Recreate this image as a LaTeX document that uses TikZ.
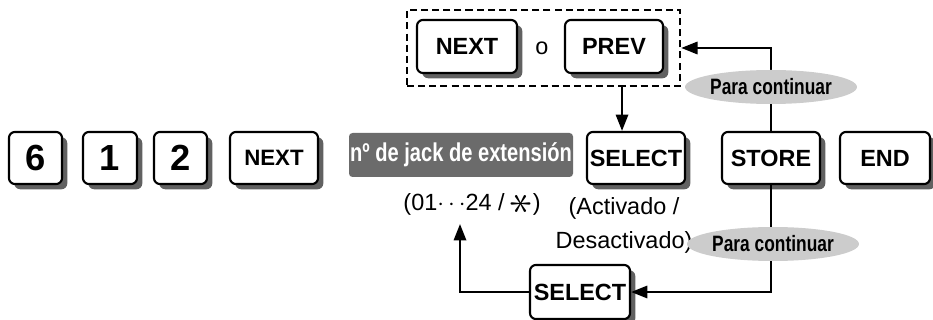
\documentclass[tikz,border=0pt]{standalone}
\usepackage{fontspec}
\setmainfont{Liberation Sans}
\newfontfamily\condfont[FakeStretch=0.78]{Liberation Sans}
\usetikzlibrary{arrows.meta,shapes.geometric,shadows}
\definecolor{keyshadow}{gray}{0.38}
\definecolor{jackgray}{gray}{0.42}
\definecolor{ovalgray}{gray}{0.8}

\begin{document}
\begin{tikzpicture}[x=0.03cm, y=-0.03cm,
    key/.style={draw, rounded corners=5pt, fill=white, line width=1.8pt, inner sep=0pt, minimum height=1.56cm,
      drop shadow={shadow xshift=4.5pt, shadow yshift=-4.5pt, fill=keyshadow, opacity=1},
      font=\bfseries\fontsize{20}{24}\selectfont},
    digit/.style={key, font=\bfseries\fontsize{31}{34}\selectfont},
    oval/.style={ellipse, fill=ovalgray, inner sep=0pt, minimum width=4.08cm, minimum height=1.02cm,
      font=\condfont\bfseries\fontsize{19}{22}\selectfont},
    arr/.style={line width=2pt, -{Triangle[length=14pt,width=10.5pt]}},
    txt/.style={inner sep=0pt, font=\fontsize{20}{29}\selectfont}]
    \useasboundingbox (0,0) rectangle (933,320);
    % main row
    \node[digit, minimum width=1.59cm] (k6) at (35.5,158) {6};
    \node[digit, minimum width=1.62cm] (k1) at (110,158) {1};
    \node[digit, minimum width=1.59cm] (k2) at (180.5,158) {2};
    \node[key, minimum width=2.64cm, font=\bfseries\fontsize{19}{22}\selectfont] (next) at (274,158) {NEXT};
    \node[fill=jackgray, rounded corners=3pt, inner sep=0pt, minimum width=6.72cm, minimum height=1.32cm,
      text=white, font=\condfont\bfseries\fontsize{22}{24}\selectfont] (jack) at (461,155) {nº de jack de extensión};
    \node[key, minimum width=2.94cm] (sel) at (636,158) {SELECT};
    \node[key, minimum width=2.94cm] (store) at (771,158) {STORE};
    \node[key, minimum width=2.7cm] (end) at (885,158) {END};
    % choice on top
    \node[key, minimum width=3cm, minimum height=1.59cm] (tnext) at (467,46.5) {NEXT};
    \node[txt] (o) at (542,48) {o};
    \node[key, minimum width=2.94cm, minimum height=1.59cm] (tprev) at (614,46.5) {PREV};
    \node[draw, line width=2pt, dash pattern=on 6pt off 3.5pt, minimum width=8.19cm, minimum height=2.28cm] (grp) at (543.5,48) {};
    % texts under the row
    \node[txt] (range) at (472,204) {(01$\cdots$24 / \raisebox{-0.3ex}{\scalebox{1.9}{\rotatebox[origin=c]{90}{$\ast$}}})};
    \node[txt, align=center] (state) at (624,225) {(Activado /\\Desactivado)};
    \node[key, minimum width=3cm, minimum height=1.62cm] (sel2) at (580,292) {SELECT};
    \coordinate (down) at (622,0);
    \coordinate (up) at (460,224);
    \draw[arr] (store.north) |- (grp.east);
    \draw[arr] (grp.south -| down) -- (sel.north -| down);
    \draw[arr] (store.south) |- (sel2.east);
    \draw[arr] (sel2.west) -| (up);
    \node[oval] (cont1) at (771,87) {Para continuar};
    \node[oval] (cont2) at (773,244) {Para continuar};
\end{tikzpicture}
\end{document}
